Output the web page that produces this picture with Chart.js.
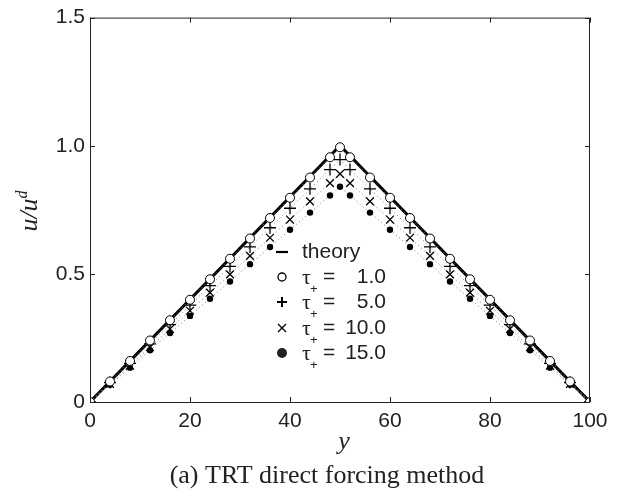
<!DOCTYPE html>
<html>
<head>
<meta charset="UTF-8">
<title>TRT direct forcing method</title>
<script src="https://cdn.jsdelivr.net/npm/chart.js"></script>
<style>
  body { margin: 0; background: #fff; }
  #wrap { width: 635px; height: 497px; }
</style>
</head>
<body>
<div id="wrap"><canvas id="myChart" width="635" height="497"></canvas></div>
<script>
// ---- data ----
const xs = [0, 4, 8, 12, 16, 20, 24, 28, 32, 36, 40, 44, 48, 50, 52, 56, 60, 64, 68, 72, 76, 80, 84, 88, 92, 96, 100];
const tau1 = [0, 0.080, 0.160, 0.240, 0.319, 0.399, 0.479, 0.559, 0.638, 0.718, 0.797, 0.876, 0.955, 0.994,
              0.955, 0.876, 0.797, 0.718, 0.638, 0.559, 0.479, 0.399, 0.319, 0.240, 0.160, 0.080, 0];
const tau5 = [0, 0.076, 0.151, 0.227, 0.302, 0.378, 0.454, 0.529, 0.605, 0.680, 0.756, 0.832, 0.907, 0.946,
              0.907, 0.832, 0.756, 0.680, 0.605, 0.529, 0.454, 0.378, 0.302, 0.227, 0.151, 0.076, 0];
const tau10 = [0, 0.071, 0.142, 0.214, 0.285, 0.356, 0.427, 0.498, 0.570, 0.641, 0.712, 0.783, 0.854, 0.890,
               0.854, 0.783, 0.712, 0.641, 0.570, 0.498, 0.427, 0.356, 0.285, 0.214, 0.142, 0.071, 0];
const tau15 = [0, 0.067, 0.134, 0.202, 0.269, 0.336, 0.403, 0.470, 0.538, 0.605, 0.672, 0.739, 0.806, 0.840,
               0.806, 0.739, 0.672, 0.605, 0.538, 0.470, 0.403, 0.336, 0.269, 0.202, 0.134, 0.067, 0];
const theoryX = [0, 50, 100];
const theoryY = [0, 1, 0];
const tauLabels = ['1.0', '5.0', '10.0', '15.0'];
const xTicks = [0, 20, 40, 60, 80, 100];
const yTicks = [0, 0.5, 1.0, 1.5];

const pts = (xx, yy) => xx.map((x, i) => ({x: x, y: yy[i]}));

const dotted = {showLine: true, borderColor: '#7a7a7a', borderWidth: 1, borderDash: [1, 3]};

const datasets = [
  Object.assign({label: 'τ+ = 1.0', data: pts(xs, tau1), pointStyle: 'circle', pointRadius: 4.5,
    pointBackgroundColor: '#fff', pointBorderColor: '#000', pointBorderWidth: 1}, dotted),
  Object.assign({label: 'τ+ = 5.0', data: pts(xs, tau5), pointStyle: 'cross', pointRadius: 6,
    pointBorderColor: '#000', pointBorderWidth: 1.3}, dotted),
  Object.assign({label: 'τ+ = 10.0', data: pts(xs, tau10), pointStyle: 'crossRot', pointRadius: 5.5,
    pointBorderColor: '#000', pointBorderWidth: 1.3}, dotted),
  Object.assign({label: 'τ+ = 15.0', data: pts(xs, tau15), pointStyle: 'circle', pointRadius: 3.2,
    pointBackgroundColor: '#000', pointBorderColor: '#000', pointBorderWidth: 0}, dotted),
  {label: 'theory', data: pts(theoryX, theoryY), showLine: true, borderColor: '#000', borderWidth: 3,
    pointRadius: 0}
];

const FONT = '"Liberation Sans", Arial, sans-serif';
const SERIF = '"Liberation Serif", "Times New Roman", serif';

// box, inward ticks, axis titles, caption and legend
const extras = {
  id: 'extras',
  afterDraw(chart) {
    const ctx = chart.ctx;
    const a = chart.chartArea;
    const sx = chart.scales.x, sy = chart.scales.y;
    ctx.save();
    ctx.strokeStyle = '#222';
    ctx.lineWidth = 1;
    ctx.strokeRect(a.left + 0.5, a.top + 0.5, a.right - a.left - 1, a.bottom - a.top);
    ctx.beginPath();
    xTicks.forEach(v => {
      const p = Math.round(sx.getPixelForValue(v)) + 0.5;
      ctx.moveTo(p, a.bottom); ctx.lineTo(p, a.bottom - 5);
      ctx.moveTo(p, a.top); ctx.lineTo(p, a.top + 5);
    });
    yTicks.forEach(v => {
      const p = Math.round(sy.getPixelForValue(v)) + 0.5;
      ctx.moveTo(a.left, p); ctx.lineTo(a.left + 5, p);
      ctx.moveTo(a.right, p); ctx.lineTo(a.right - 5, p);
    });
    ctx.stroke();

    ctx.fillStyle = '#222';
    // x title
    ctx.font = 'italic 26px ' + SERIF;
    ctx.textAlign = 'center';
    ctx.textBaseline = 'alphabetic';
    ctx.fillText('y', (a.left + a.right) / 2 + 4, 449);

    // y title u/u^d
    ctx.save();
    ctx.translate(37, 211);
    ctx.rotate(-Math.PI / 2);
    ctx.font = 'italic 26px ' + SERIF;
    ctx.textAlign = 'left';
    const base = 'u/u';
    const w = ctx.measureText(base).width;
    ctx.font = 'italic 16px ' + SERIF;
    const wd = ctx.measureText('d').width;
    const x0 = -(w + wd) / 2;
    ctx.font = 'italic 26px ' + SERIF;
    ctx.fillText(base, x0, 0);
    ctx.font = 'italic 16px ' + SERIF;
    ctx.fillText('d', x0 + w, -10);
    ctx.restore();

    // caption
    ctx.font = '26px ' + SERIF;
    ctx.textAlign = 'center';
    ctx.fillText('(a) TRT direct forcing method', 327, 483);

    // legend
    const rows = [252, 277, 302, 328, 353];
    const mx = 282;
    ctx.textBaseline = 'middle';
    ctx.strokeStyle = '#000';
    ctx.fillStyle = '#222';
    // theory
    ctx.lineWidth = 2.2;
    ctx.beginPath(); ctx.moveTo(mx - 6, rows[0]); ctx.lineTo(mx + 6, rows[0]); ctx.stroke();
    ctx.font = '21px ' + FONT;
    ctx.textAlign = 'left';
    ctx.fillText('theory', 302, rows[0]);
    ctx.lineWidth = 1.3;
    // circle
    ctx.beginPath(); ctx.arc(mx, rows[1], 4, 0, Math.PI * 2); ctx.stroke();
    // plus
    ctx.lineWidth = 2;
    ctx.beginPath();
    ctx.moveTo(mx - 5, rows[2]); ctx.lineTo(mx + 5, rows[2]);
    ctx.moveTo(mx, rows[2] - 5); ctx.lineTo(mx, rows[2] + 5);
    ctx.stroke();
    ctx.lineWidth = 1.3;
    // x
    ctx.beginPath();
    ctx.moveTo(mx - 4, rows[3] - 4); ctx.lineTo(mx + 4, rows[3] + 4);
    ctx.moveTo(mx + 4, rows[3] - 4); ctx.lineTo(mx - 4, rows[3] + 4);
    ctx.stroke();
    // dot
    ctx.beginPath(); ctx.arc(mx, rows[4], 5, 0, Math.PI * 2); ctx.fill();

    tauLabels.forEach((t, i) => {
      const y = rows[i + 1];
      ctx.font = '22px ' + SERIF;
      ctx.textAlign = 'left';
      ctx.fillText('τ', 302, y + 1);
      ctx.font = '13px ' + FONT;
      ctx.fillText('+', 310, y + 12);
      ctx.font = '21px ' + FONT;
      ctx.fillText('=', 323, y);
      ctx.textAlign = 'right';
      ctx.fillText(t, 386, y);
    });
    ctx.restore();
  }
};

const config = {
  type: 'scatter',
  data: {datasets: datasets},
  options: {
    responsive: false,
    animation: false,
    layout: {autoPadding: false, padding: {left: 0, right: 45, top: 8, bottom: 0}},
    plugins: {legend: {display: false}, tooltip: {enabled: false}},
    scales: {
      x: {
        type: 'linear', min: 0, max: 100,
        afterFit: s => { s.height = 95; },
        afterBuildTicks: s => { s.ticks = xTicks.map(v => ({value: v})); },
        grid: {display: false, drawTicks: false},
        border: {display: false},
        ticks: {color: '#222', padding: 7, font: {family: FONT, size: 21}, maxRotation: 0}
      },
      y: {
        type: 'linear', min: 0, max: 1.5,
        afterFit: s => { s.width = 90; },
        afterBuildTicks: s => { s.ticks = yTicks.map(v => ({value: v})); },
        grid: {display: false, drawTicks: false},
        border: {display: false},
        ticks: {color: '#222', padding: 5, font: {family: FONT, size: 21},
          callback: v => v === 0 ? '0' : v.toFixed(1)}
      }
    }
  },
  plugins: [extras]
};

const myChart = new Chart(document.getElementById('myChart'), config);
</script>
</body>
</html>
